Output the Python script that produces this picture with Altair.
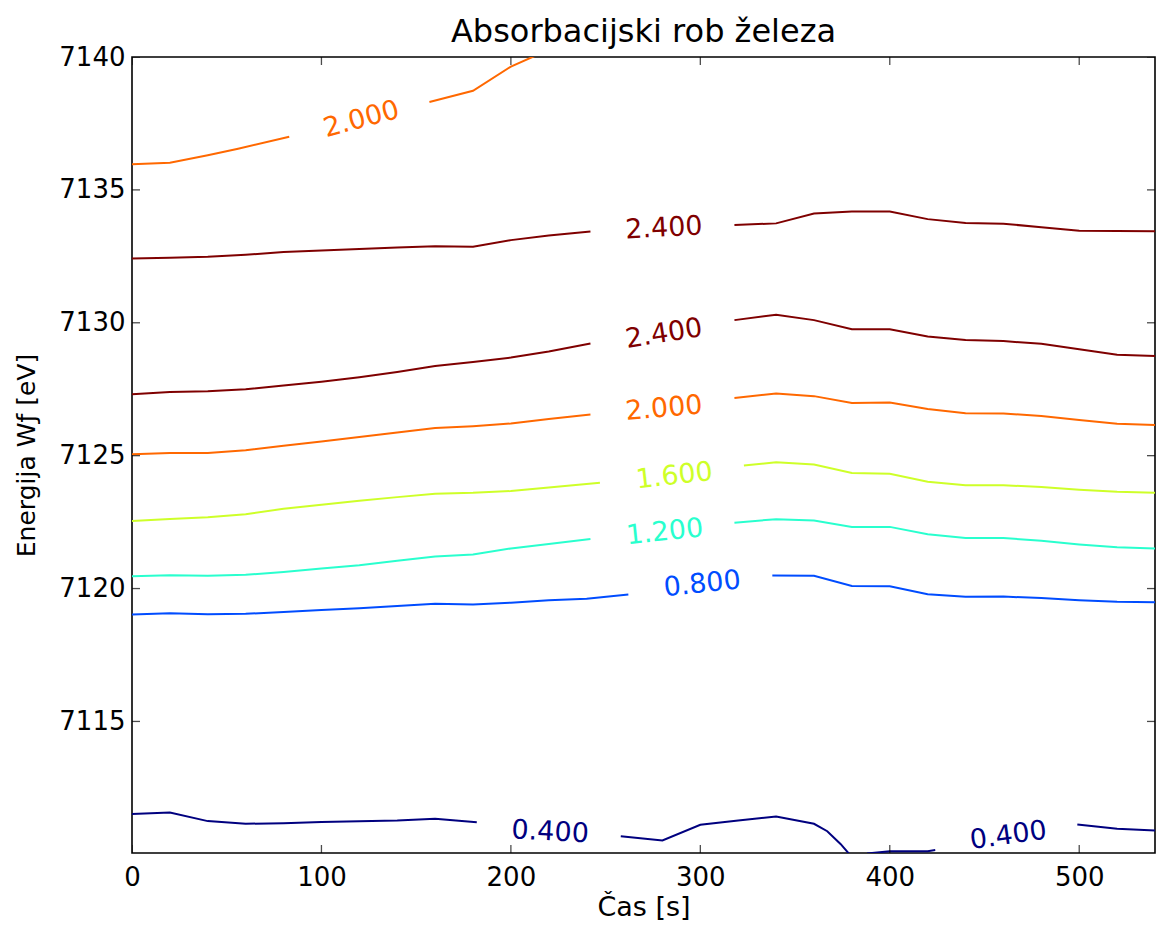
import altair as alt
import pandas as pd

# ---- data -------------------------------------------------------------------
levels = ["0.400", "0.800", "1.200", "1.600", "2.000", "2.400"]
level_colors = ["#00007f", "#004cff", "#29ffce", "#ceff29", "#ff6800", "#7f0000"]

x_ticks = [0, 100, 200, 300, 400, 500]
y_ticks = [7115, 7120, 7125, 7130, 7135, 7140]

# contour paths: (level, times [s], energies [eV])
top2000a_t = [0, 20, 40, 56, 83]
top2000a_e = [7135.96, 7136.02, 7136.30, 7136.55, 7137.00]
top2000b_t = [157, 180, 200, 213]
top2000b_e = [7138.31, 7138.73, 7139.64, 7140.05]

up2400a_t = [0, 20, 40, 60, 80, 100, 120, 140, 160, 180, 200, 220, 242]
up2400a_e = [7132.42, 7132.45, 7132.48, 7132.56, 7132.66, 7132.72, 7132.78,
             7132.83, 7132.88, 7132.86, 7133.11, 7133.28, 7133.43]
up2400b_t = [318, 340, 360, 380, 400, 420, 440, 460, 480, 500, 520, 540]
up2400b_e = [7133.68, 7133.74, 7134.11, 7134.19, 7134.19, 7133.90, 7133.75,
             7133.73, 7133.59, 7133.46, 7133.45, 7133.44]

lo2400a_t = [0, 20, 40, 60, 80, 100, 120, 140, 160, 180, 200, 220, 242]
lo2400a_e = [7127.31, 7127.40, 7127.42, 7127.50, 7127.64, 7127.78, 7127.95,
             7128.15, 7128.37, 7128.52, 7128.69, 7128.92, 7129.22]
lo2400b_t = [318, 340, 360, 380, 400, 420, 440, 460, 480, 500, 520, 540]
lo2400b_e = [7130.10, 7130.30, 7130.10, 7129.76, 7129.76, 7129.48, 7129.35,
             7129.31, 7129.21, 7129.00, 7128.80, 7128.75]

mid2000a_t = [0, 20, 40, 60, 80, 100, 120, 140, 160, 180, 200, 220, 242]
mid2000a_e = [7125.05, 7125.10, 7125.10, 7125.20, 7125.37, 7125.53, 7125.70,
              7125.87, 7126.04, 7126.11, 7126.21, 7126.38, 7126.55]
mid2000b_t = [318, 340, 360, 380, 400, 420, 440, 460, 480, 500, 520, 540]
mid2000b_e = [7127.17, 7127.34, 7127.24, 7126.98, 7127.00, 7126.76, 7126.60,
              7126.59, 7126.49, 7126.34, 7126.20, 7126.15]

l1600a_t = [0, 20, 40, 60, 80, 100, 120, 140, 160, 180, 200, 220, 247]
l1600a_e = [7122.54, 7122.62, 7122.68, 7122.80, 7123.00, 7123.15, 7123.30,
            7123.44, 7123.57, 7123.60, 7123.67, 7123.80, 7123.98]
l1600b_t = [323, 340, 360, 380, 400, 420, 440, 460, 480, 500, 520, 540]
l1600b_e = [7124.63, 7124.75, 7124.67, 7124.35, 7124.32, 7124.02, 7123.89,
            7123.89, 7123.82, 7123.72, 7123.64, 7123.60]

l1200a_t = [0, 20, 40, 60, 80, 100, 120, 140, 160, 180, 200, 220, 242]
l1200a_e = [7120.46, 7120.50, 7120.48, 7120.52, 7120.62, 7120.75, 7120.88,
            7121.05, 7121.21, 7121.28, 7121.51, 7121.68, 7121.86]
l1200b_t = [318, 340, 360, 380, 400, 420, 440, 460, 480, 500, 520, 540]
l1200b_e = [7122.48, 7122.61, 7122.56, 7122.32, 7122.32, 7122.04, 7121.90,
            7121.90, 7121.80, 7121.66, 7121.55, 7121.51]

l0800a_t = [0, 20, 40, 60, 80, 100, 120, 140, 160, 180, 200, 220, 240, 262]
l0800a_e = [7119.02, 7119.07, 7119.03, 7119.05, 7119.12, 7119.19, 7119.26,
            7119.34, 7119.43, 7119.40, 7119.47, 7119.56, 7119.62, 7119.78]
l0800b_t = [338, 360, 380, 400, 420, 440, 460, 480, 500, 520, 540]
l0800b_e = [7120.49, 7120.48, 7120.10, 7120.09, 7119.79, 7119.69, 7119.70,
            7119.64, 7119.56, 7119.50, 7119.48]

l0400a_t = [0, 20, 40, 60, 80, 100, 120, 140, 160, 182]
l0400a_e = [7111.52, 7111.57, 7111.25, 7111.15, 7111.17, 7111.22, 7111.24,
            7111.27, 7111.34, 7111.21]
l0400b_t = [258, 280, 300, 320, 340, 360, 367, 374, 379]
l0400b_e = [7110.68, 7110.52, 7111.11, 7111.27, 7111.42, 7111.15, 7110.87,
            7110.39, 7109.98]
l0400c_t = [388, 400, 420, 424]
l0400c_e = [7110.03, 7110.12, 7110.12, 7110.16]
l0400d_t = [499, 520, 540]
l0400d_e = [7111.12, 7110.96, 7110.90]

segments = [
    ("2.000", top2000a_t, top2000a_e), ("2.000", top2000b_t, top2000b_e),
    ("2.400", up2400a_t, up2400a_e), ("2.400", up2400b_t, up2400b_e),
    ("2.400", lo2400a_t, lo2400a_e), ("2.400", lo2400b_t, lo2400b_e),
    ("2.000", mid2000a_t, mid2000a_e), ("2.000", mid2000b_t, mid2000b_e),
    ("1.600", l1600a_t, l1600a_e), ("1.600", l1600b_t, l1600b_e),
    ("1.200", l1200a_t, l1200a_e), ("1.200", l1200b_t, l1200b_e),
    ("0.800", l0800a_t, l0800a_e), ("0.800", l0800b_t, l0800b_e),
    ("0.400", l0400a_t, l0400a_e), ("0.400", l0400b_t, l0400b_e),
    ("0.400", l0400c_t, l0400c_e), ("0.400", l0400d_t, l0400d_e),
]

# inline contour labels
label_text = ["2.000", "2.400", "2.400", "2.000", "1.600", "1.200", "0.800", "0.400", "0.400"]
label_t = [121.1, 280.8, 280.8, 280.8, 286.3, 281.2, 301.0, 220.7, 462.6]
label_e = [7137.65, 7133.55, 7129.58, 7126.77, 7124.23, 7122.12, 7120.16, 7110.83, 7110.70]
label_angle = [345, 357, 351, 355, 353.5, 354, 354, 3, 352]

# ---- build tables -----------------------------------------------------------
rows = []
for sid, (lev, ts, es) in enumerate(segments):
    for i, (t, e) in enumerate(zip(ts, es)):
        rows.append({"seg": sid, "level": lev, "t": t, "E": e, "i": i})
df = pd.DataFrame(rows)

labels_df = pd.DataFrame({"level": label_text, "t": label_t, "E": label_e,
                          "angle": label_angle})

Y_MIN, Y_MAX = 7110.05, 7140
X_MIN, X_MAX = 0, 540
xticks_df = pd.DataFrame({"t": x_ticks * 2,
                          "E": [Y_MIN] * len(x_ticks) + [Y_MAX] * len(x_ticks)})
yticks_df = pd.DataFrame({"t": [X_MIN] * len(y_ticks) + [X_MAX] * len(y_ticks),
                          "E": y_ticks * 2})

FONT = "DejaVu Sans"
xs = alt.Scale(domain=[X_MIN, X_MAX], nice=False, zero=False)
ys = alt.Scale(domain=[Y_MIN, Y_MAX], nice=False, zero=False)
cs = alt.Scale(domain=levels, range=level_colors)

x_axis = alt.Axis(values=x_ticks, title="Čas [s]", ticks=False, domain=False,
                  grid=False, format="d", labelFontSize=26, labelFont=FONT,
                  labelColor="black", labelPadding=11, labelFlush=False,
                  titleFontSize=27, titleFont=FONT, titleFontWeight="normal",
                  titleColor="black", titlePadding=4)
y_axis = alt.Axis(values=y_ticks, title="Energija Wƒ [eV]", ticks=False,
                  domain=False, grid=False, format="d", labelFontSize=26,
                  labelFont=FONT, labelColor="black", labelPadding=7,
                  labelFlush=False, titleFontSize=25, titleFont=FONT,
                  titleFontWeight="normal", titleColor="black", titlePadding=19)

X = alt.X("t:Q", scale=xs, axis=x_axis, title="Čas [s]")
Y = alt.Y("E:Q", scale=ys, axis=y_axis, title="Energija Wƒ [eV]")

lines = alt.Chart(df).mark_line(strokeWidth=2, clip=True).encode(
    x=X, y=Y,
    color=alt.Color("level:N", scale=cs, legend=None),
    detail="seg:N",
    order="i:Q",
)

texts = alt.Chart(labels_df).mark_text(font=FONT, fontSize=27, align="center",
                                       baseline="middle").encode(
    x=X, y=Y,
    text="level:N",
    angle=alt.Angle("angle:Q", scale=None),
    color=alt.Color("level:N", scale=cs, legend=None),
)

xt = alt.Chart(xticks_df).mark_tick(orient="vertical", size=16, thickness=1.3,
                                    color="black", clip=True).encode(x=X, y=Y)
yt = alt.Chart(yticks_df).mark_tick(orient="horizontal", size=16, thickness=1.3,
                                    color="black", clip=True).encode(x=X, y=Y)

chart = alt.layer(lines, texts, xt, yt).properties(
    width=1023, height=796,
    title=alt.TitleParams("Absorbacijski rob železa", fontSize=32, font=FONT,
                          fontWeight="normal", color="black", anchor="middle",
                          frame="group", offset=10, dy=15),
    autosize=alt.AutoSizeParams(type="none"),
    padding={"left": 124, "top": 49, "right": 1, "bottom": 70},
).configure_view(stroke="black", strokeWidth=1.6)

chart.save("out.html", embed_options={"renderer": "svg", "actions": False})
